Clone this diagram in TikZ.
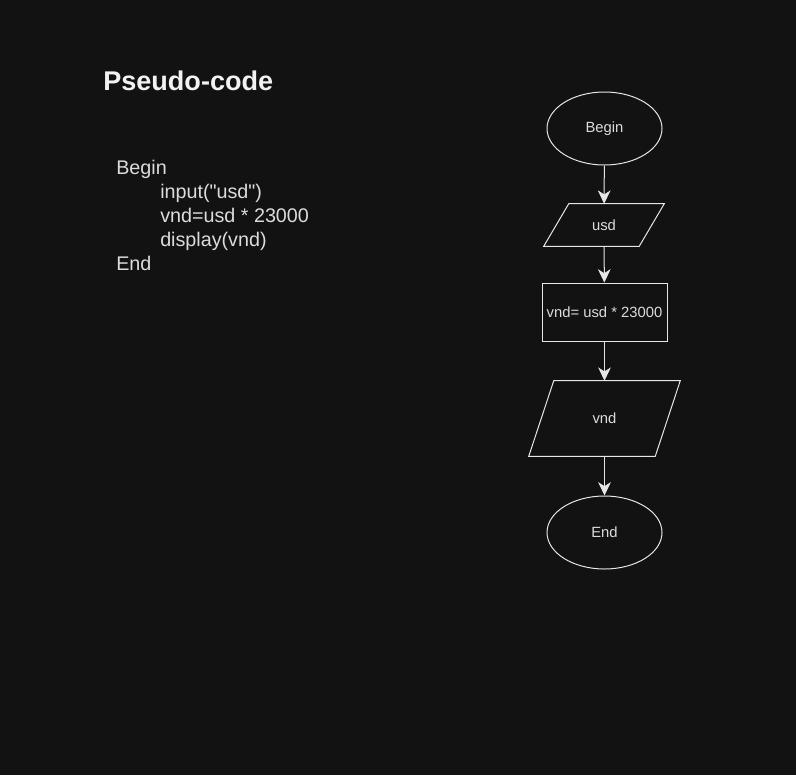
\documentclass[tikz,border=0pt]{standalone}
\usepackage{fontspec}
\setmainfont{Liberation Sans}
\usetikzlibrary{shapes.geometric,arrows.meta,positioning,calc}
\usepackage{xcolor}
\definecolor{bgdark}{HTML}{121212}
\definecolor{linegray}{HTML}{E6E6E6}
\definecolor{textgray}{HTML}{DCDCDC}
\definecolor{titlewhite}{HTML}{F2F2F2}

\begin{document}
\begin{tikzpicture}[
x=0.75pt, y=-0.75pt,
line/.style={draw=linegray, line width=0.75pt},
flow/.style={
    line,
    -{Stealth[length=10pt, width=9.5pt, inset=3pt]}
},
terminal/.style={
    line,
    ellipse,
    minimum width=86.25pt,
    minimum height=54.75pt,
    inner sep=0pt
},
process/.style={
    line,
    rectangle,
    minimum width=93.75pt,
    minimum height=43.5pt,
    inner sep=0pt
},
io/.style={
    rectangle,
    inner sep=0pt
},
every node/.style={text=textgray, font=\fontsize{11.1pt}{13pt}\selectfont}
]

\fill[bgdark] (0,0) rectangle (796,775);
\useasboundingbox (0,0) rectangle (796,775);

% pseudo-code
\node[anchor=base west, inner sep=0pt, text=titlewhite,
      font=\fontsize{20.3pt}{24pt}\selectfont\bfseries] (title) at (103,90) {Pseudo-code};

\node[anchor=north west, inner sep=0pt, align=left,
      font=\fontsize{14.8pt}{18pt}\selectfont] (pseudo) at (116,160) {
Begin\\
\hspace{33pt}input(\textquotedbl usd\textquotedbl)\\
\hspace{33pt}vnd=usd * 23000\\
\hspace{33pt}display(vnd)\\
End
};

% flowchart
\node[terminal] (begin) at (604.5,128.5) {Begin};

\node[io, minimum width=90pt, minimum height=31.5pt] (usd) at (604,225) {usd};
\draw[line] ($(usd.north west)+(18.75pt,0)$) -- (usd.north east)
    -- ($(usd.south east)+(-18.75pt,0)$) -- (usd.south west) -- cycle;

\node[process] (calc) at (604.5,312) {vnd= usd * 23000};

\node[io, minimum width=113.25pt, minimum height=56.25pt] (vnd) at (604.5,418.5) {vnd};
\draw[line] ($(vnd.north west)+(18.75pt,0)$) -- (vnd.north east)
    -- ($(vnd.south east)+(-18.75pt,0)$) -- (vnd.south west) -- cycle;

\node[terminal] (end) at (604.5,532.5) {End};

% connectors
\draw[flow] (begin) -- (usd);
\draw[flow] (usd) -- (calc);
\draw[flow] (calc) -- (vnd);
\draw[flow] (vnd) -- (end);

\end{tikzpicture}
\end{document}
